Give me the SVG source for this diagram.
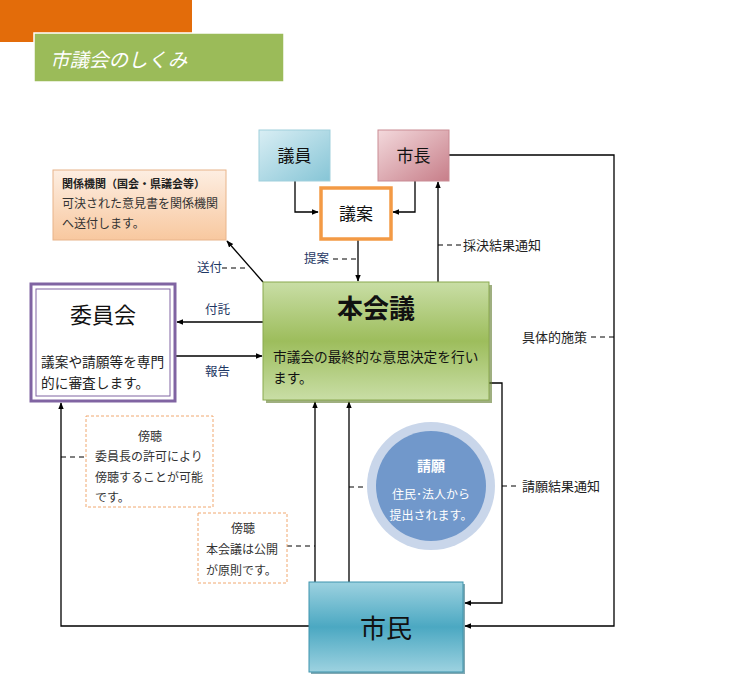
<svg xmlns="http://www.w3.org/2000/svg" width="746" height="686" viewBox="0 0 746 686">
<style>
text{font-family:"Noto Sans CJK JP","Noto Sans CJK SC",sans-serif;}
.c{stroke:#000;stroke-width:1.3;fill:none}
.d{stroke:#000;stroke-width:1;fill:none;stroke-dasharray:5,4}
.lb{font-size:12.5px;fill:#1f3864}
.lk{font-size:13px;fill:#222}
.sm{font-size:12px;fill:#333}
</style>
<defs>
<marker id="ah" viewBox="0 0 10 10" refX="9" refY="5" markerWidth="7" markerHeight="7" orient="auto-start-reverse" markerUnits="userSpaceOnUse"><path d="M0,1 L10,5 L0,9 z" fill="#000"/></marker>
<linearGradient id="gBlue" x1="0" y1="0" x2="1" y2="1"><stop offset="0" stop-color="#d9eef4"/><stop offset="1" stop-color="#86c5d6"/></linearGradient>
<linearGradient id="gPink" x1="0" y1="0" x2="1" y2="1"><stop offset="0" stop-color="#f3d9dc"/><stop offset="1" stop-color="#c77e89"/></linearGradient>
<linearGradient id="gPeach" x1="0" y1="0" x2="0" y2="1"><stop offset="0" stop-color="#fdeee2"/><stop offset="1" stop-color="#f8c89f"/></linearGradient>
<linearGradient id="gGreen" x1="0" y1="0" x2="0" y2="1"><stop offset="0" stop-color="#c9dea6"/><stop offset="0.5" stop-color="#9dbd5c"/><stop offset="1" stop-color="#c9dea6"/></linearGradient>
<linearGradient id="gCity" x1="0" y1="0" x2="0" y2="1"><stop offset="0" stop-color="#9dd2e0"/><stop offset="0.5" stop-color="#4ba8c2"/><stop offset="1" stop-color="#9dd2e0"/></linearGradient>
</defs>

<g id="header">
<rect x="0" y="0" width="192" height="42" fill="#e36c0a"/>
<rect x="34" y="33" width="250" height="49" fill="#9bbb59" stroke="#fff" stroke-width="1.5"/>
<text x="50" y="67" font-size="19.5" font-style="italic" fill="#fff">市議会のしくみ</text>
</g>

<g id="connectors">
<polyline class="c" points="295,181 295,212 318,212" marker-end="url(#ah)"/>
<polyline class="c" points="415,181 415,212 393,212" marker-end="url(#ah)"/>
<line class="c" x1="358" y1="240" x2="358" y2="281" marker-end="url(#ah)"/>
<line class="c" x1="263" y1="282" x2="227" y2="241" marker-end="url(#ah)"/>
<line class="c" x1="438" y1="282" x2="438" y2="182" marker-end="url(#ah)"/>
<line class="c" x1="263" y1="322" x2="177" y2="322" marker-end="url(#ah)"/>
<line class="c" x1="176" y1="356" x2="262" y2="356" marker-end="url(#ah)"/>
<polyline class="c" points="449,155 614,155 614,626 465,626" marker-end="url(#ah)"/>
<polyline class="c" points="489,383 502,383 502,603 465,603" marker-end="url(#ah)"/>
<line class="c" x1="315" y1="582" x2="315" y2="402" marker-end="url(#ah)"/>
<line class="c" x1="349" y1="582" x2="349" y2="402" marker-end="url(#ah)"/>
<polyline class="c" points="309,626 61,626 61,403" marker-end="url(#ah)"/>
<line class="d" x1="333" y1="259" x2="358" y2="259"/>
<line class="d" x1="222" y1="268" x2="247" y2="268"/>
<line class="d" x1="438" y1="245" x2="462" y2="245"/>
<line class="d" x1="591" y1="337" x2="614" y2="337"/>
<line class="d" x1="502" y1="486" x2="520" y2="486"/>
<line class="d" x1="349" y1="487" x2="367" y2="487"/>
<line class="d" x1="61" y1="457" x2="86" y2="457"/>
<line class="d" x1="287" y1="546" x2="315" y2="546"/>
<text class="lb" x="304" y="263">提案</text>
<text class="lb" x="197" y="272">送付</text>
<text class="lk" x="463" y="250">採決結果通知</text>
<text class="lb" x="205" y="314">付託</text>
<text class="lb" x="205" y="376">報告</text>
<text class="lk" x="522" y="342">具体的施策</text>
<text class="lk" x="522" y="491">請願結果通知</text>
</g>

<g id="giin">
<rect x="259" y="130" width="71" height="51" fill="url(#gBlue)" stroke="#9fcfdc" stroke-width="1"/>
<text x="294.5" y="162" font-size="17" text-anchor="middle" fill="#111">議員</text>
</g>
<g id="shicho">
<rect x="378" y="130" width="71" height="51" fill="url(#gPink)" stroke="#c98b94" stroke-width="1"/>
<text x="413.5" y="162" font-size="17" text-anchor="middle" fill="#111">市長</text>
</g>
<g id="gian">
<rect x="321" y="188" width="70" height="51" fill="#fff" stroke="#f39a45" stroke-width="3.5"/>
<text x="356" y="220" font-size="17" text-anchor="middle" fill="#111">議案</text>
</g>
<g id="kankei">
<rect x="53" y="170" width="173" height="70" fill="url(#gPeach)" stroke="#e8b48a" stroke-width="1"/>
<text x="62" y="188" font-size="11" font-weight="bold" fill="#222">関係機関（国会・県議会等）</text>
<text class="sm" x="62" y="208">可決された意見書を関係機関</text>
<text class="sm" x="62" y="228">へ送付します。</text>
</g>
<g id="honkaigi">
<rect x="266" y="285" width="226" height="118" fill="#5f7a2c" opacity="0.6"/>
<rect x="263" y="282" width="226" height="118" fill="url(#gGreen)" stroke="#8aa94e" stroke-width="1"/>
<text x="376" y="318" font-size="26" font-weight="bold" text-anchor="middle" fill="#111">本会議</text>
<text x="273" y="362" font-size="13.7" fill="#111">市議会の最終的な意思決定を行い</text>
<text x="273" y="383" font-size="13.7" fill="#111">ます。</text>
</g>
<g id="iinkai">
<rect x="31" y="284" width="144" height="117" fill="#fff" stroke="#8064a2" stroke-width="3"/>
<rect x="36" y="289" width="134" height="107" fill="none" stroke="#8064a2" stroke-width="1"/>
<text x="103" y="323" font-size="22" text-anchor="middle" fill="#111">委員会</text>
<text x="41" y="367" font-size="13.7" fill="#222">議案や請願等を専門</text>
<text x="41" y="388" font-size="13.7" fill="#222">的に審査します。</text>
</g>
<g id="bocho1">
<rect x="86" y="416" width="127" height="91" fill="#fff" stroke="#f0a870" stroke-width="1" stroke-dasharray="3,2"/>
<text class="sm" x="150" y="441" text-anchor="middle">傍聴</text>
<text class="sm" x="95" y="461">委員長の許可により</text>
<text class="sm" x="95" y="482">傍聴することが可能</text>
<text class="sm" x="95" y="502">です。</text>
</g>
<g id="bocho2">
<rect x="198" y="513" width="89" height="70" fill="#fff" stroke="#f0a870" stroke-width="1" stroke-dasharray="3,2"/>
<text class="sm" x="243" y="533" text-anchor="middle">傍聴</text>
<text class="sm" x="206" y="554">本会議は公開</text>
<text class="sm" x="206" y="575">が原則です。</text>
</g>
<g id="seigan">
<circle cx="431" cy="486" r="64" fill="#c9d6ea"/>
<circle cx="431" cy="486" r="55" fill="#7198cb"/>
<text x="431" y="471" font-size="14" font-weight="bold" text-anchor="middle" fill="#fff">請願</text>
<text x="431" y="499" font-size="12" text-anchor="middle" fill="#fff">住民･法人から</text>
<text x="431" y="520" font-size="12" text-anchor="middle" fill="#fff">提出されます。</text>
</g>
<g id="shimin">
<rect x="311" y="584" width="154" height="90" fill="#2d6f80" opacity="0.6"/>
<rect x="309" y="582" width="154" height="90" fill="url(#gCity)" stroke="#3e94ad" stroke-width="1"/>
<text x="386" y="638" font-size="26" text-anchor="middle" fill="#111">市民</text>
</g>
</svg>
